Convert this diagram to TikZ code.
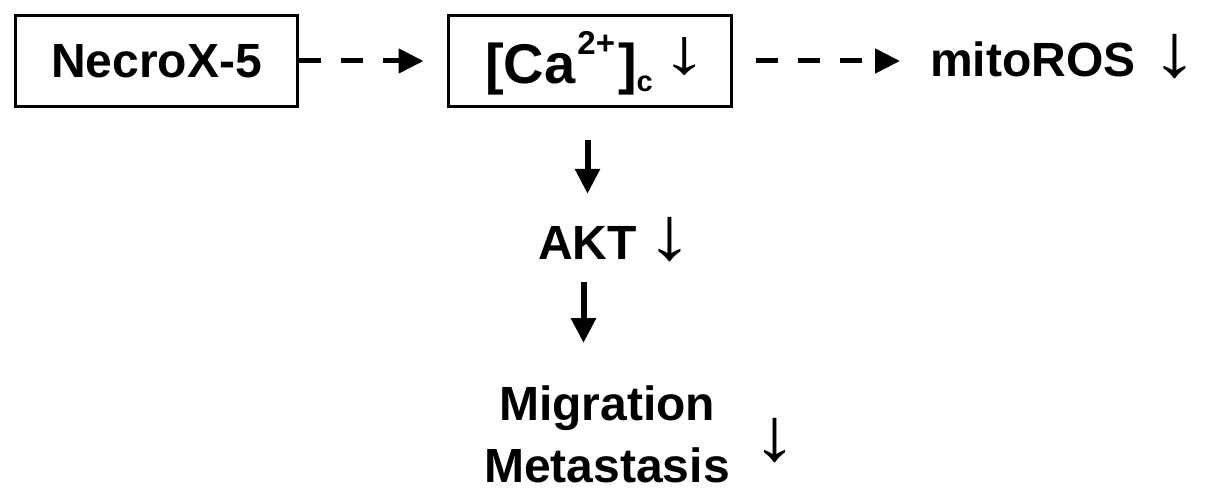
\documentclass[tikz,border=0pt]{standalone}
\usepackage{fontspec}
\usepackage{graphicx}
\setmainfont{Liberation Sans}
\usetikzlibrary{arrows.meta}
\newcommand{\dnarr}[1]{\scalebox{#1}[1]{↓}}
\begin{document}
\begin{tikzpicture}[x=1pt,y=-1pt,
  box/.style={draw, line width=3pt, inner sep=0pt},
  lbl/.style={font=\fontsize{48}{62}\selectfont\bfseries, inner sep=0pt},
  arr/.style={font=\fontsize{75}{80}\selectfont, inner sep=0pt},
  dasharrow/.style={line width=5pt, dash pattern=on 22pt off 20pt, -{Triangle[length=25pt,width=24pt]}},
  solidarrow/.style={line width=6pt, -{Triangle[length=25pt,width=24pt]}}]
\useasboundingbox (0,0) rectangle (1205,495);
% boxes
\node[box, lbl, minimum width=282pt, minimum height=91pt] (nec) at (156.5,61) {NecroX-5};
\node[box, minimum width=283pt, minimum height=91pt] (ca) at (590,61) {};
\node[inner sep=0pt, anchor=base west, font=\bfseries] (catxt) at (485,84)
  {\fontsize{56}{66}\selectfont [Ca\kern2pt\raisebox{29pt}{\fontsize{33}{33}\selectfont 2+}\kern3pt]\raisebox{-8pt}{\fontsize{29}{29}\selectfont c}\hspace{9pt}\raisebox{10pt}{\mdseries\fontsize{64}{70}\selectfont\dnarr{1.45}}};
% right label
\node[lbl, anchor=base west] (ros) at (930,77) {mitoROS\hspace{16pt}{\mdseries\fontsize{75}{80}\selectfont\dnarr{1.25}}};
% AKT
\node[lbl] (akt) at (587.5,242.5) {AKT};
\node[arr, anchor=base west] (aktarr) at (646,259) {\dnarr{1.25}};
% migration
\node[lbl, align=center, anchor=north] (mig) at (607,385.6) {Migration\\Metastasis};
\node[arr, anchor=base west] (migarr) at (752,460) {\dnarr{1.2}};
% connectors
\draw[dasharrow, shorten >=23.5pt] (nec.east) -- (ca.west);
\draw[dasharrow, shorten <=22.5pt, shorten >=30pt] (ca.east) -- (ca.east -| ros.west);
\draw[solidarrow, shorten <=31.5pt, shorten >=32pt] (ca.south -| akt.north) -- (akt.north);
\draw[solidarrow, shorten <=23pt, shorten >=42.6pt] ([xshift=-4pt]akt.south) -- ([xshift=-4pt]akt.south |- mig.north);
\end{tikzpicture}
\end{document}
